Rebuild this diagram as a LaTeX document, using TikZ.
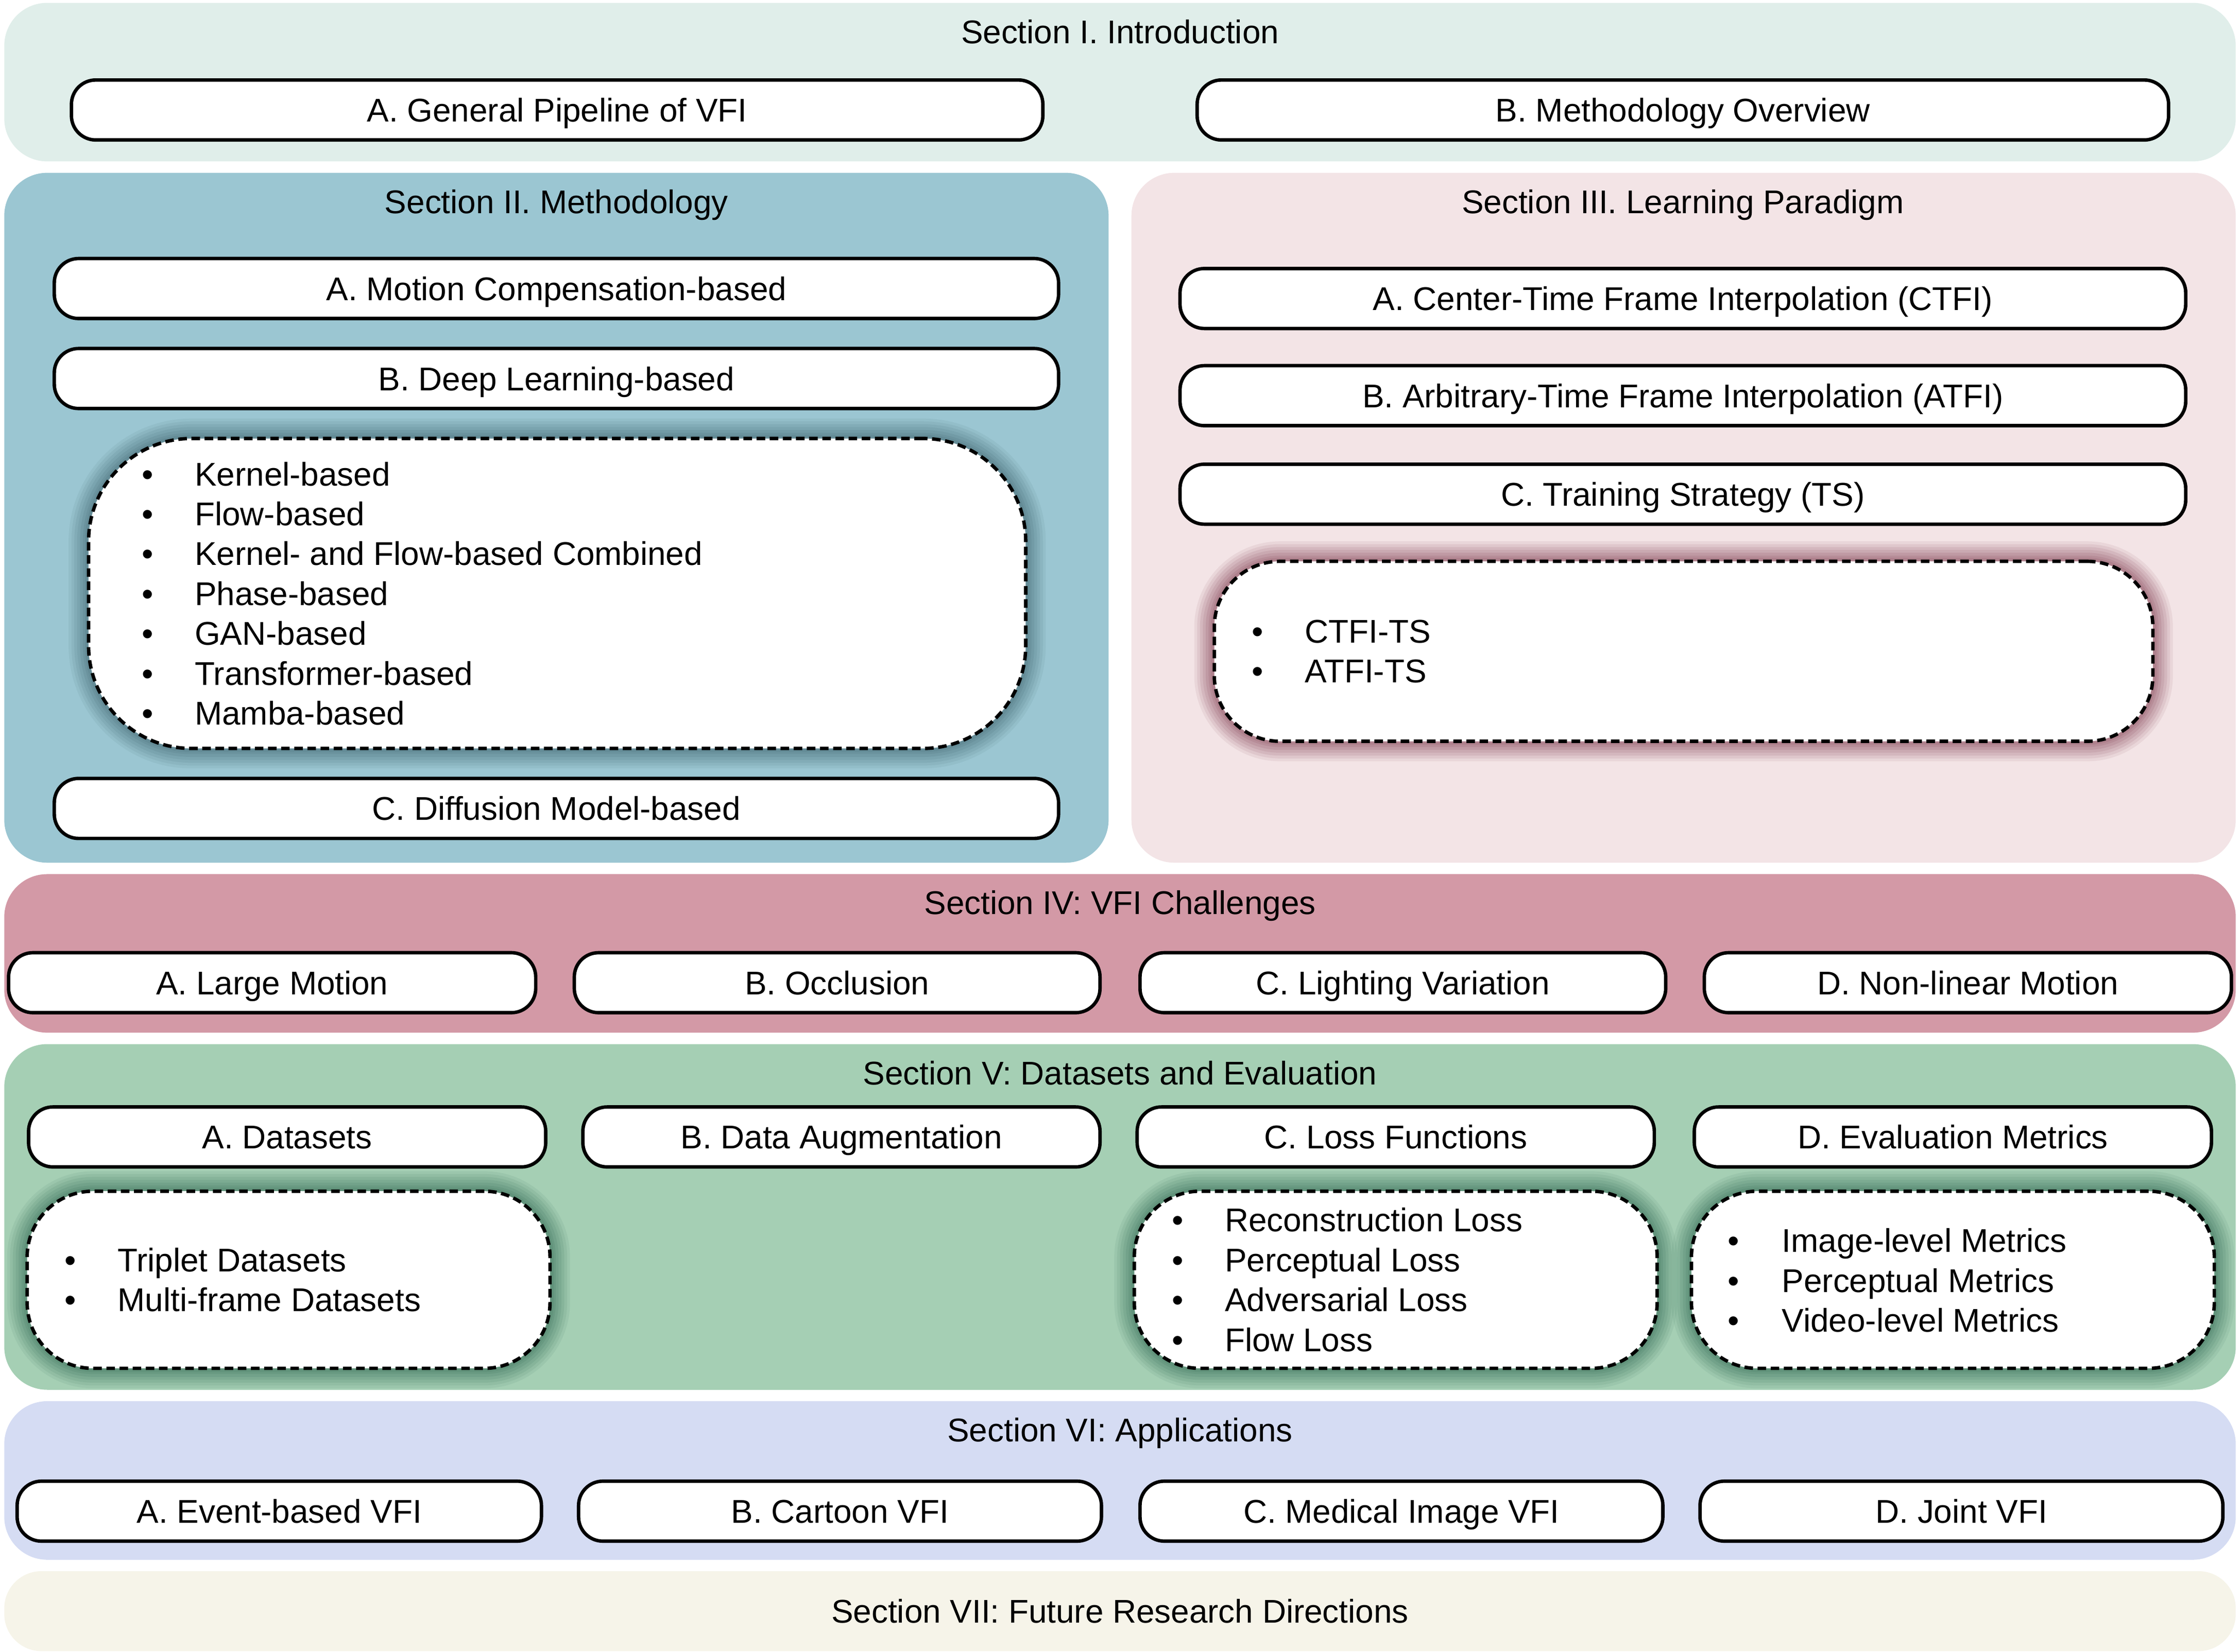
\documentclass[tikz,border=0pt]{standalone}
\usepackage{fontspec}
\setmainfont{Liberation Sans}
\definecolor{colI}{RGB}{224,238,234}
\definecolor{colII}{RGB}{155,198,210}
\definecolor{colIII}{RGB}{243,228,230}
\definecolor{colIV}{RGB}{211,153,166}
\definecolor{colV}{RGB}{165,207,180}
\definecolor{colVI}{RGB}{213,220,243}
\definecolor{colVII}{RGB}{246,244,233}
\definecolor{glowII}{RGB}{46,85,96}
\definecolor{glowIII}{RGB}{106,31,53}
\definecolor{glowV}{RGB}{31,90,69}
\newcommand\mainfont{\fontsize{11.5}{13.95}\selectfont}
\tikzset{
  secstyle/.style={draw=none, rounded corners=15pt, inner sep=0pt},
  pill/.style={draw=black, line width=1.2pt, fill=white, rounded corners=8.5pt,
    inner sep=0pt, font=\mainfont, text height=8.3pt, text depth=0pt},
  titletext/.style={inner sep=0pt, font=\mainfont, text height=8.3pt, text depth=0pt},
  glow/.style={
    preaction={draw=#1, fill=none, solid, line width=14pt, draw opacity=0.07},
    preaction={draw=#1, fill=none, solid, line width=12pt, draw opacity=0.08},
    preaction={draw=#1, fill=none, solid, line width=10pt, draw opacity=0.09},
    preaction={draw=#1, fill=none, solid, line width=8pt, draw opacity=0.09},
    preaction={draw=#1, fill=none, solid, line width=6pt, draw opacity=0.10},
    preaction={draw=#1, fill=none, solid, line width=4pt, draw opacity=0.10},
    preaction={draw=#1, fill=none, solid, line width=2.5pt, draw opacity=0.10}},
  dashbox/.style={draw=black, fill=white, dash pattern=on 3pt off 1.6pt,
    line width=1.2pt, inner sep=0pt},
  listtext/.style={anchor=west, align=left, inner sep=0pt, font=\mainfont}
}
\newcommand\secbox[6]{\node[secstyle, fill=#6, minimum width={(#4-#2)*0.5pt},
  minimum height={(#5-#3)*0.5pt}] (#1) at ({(#2+#4)/2},{(#3+#5)/2}) {};}
\newcommand\pillbox[6]{\node[pill, minimum width={(#4-#2)*0.5pt},
  minimum height={(#5-#3)*0.5pt}] (#1) at ({(#2+#4)/2},{(#3+#5)/2}) {#6};}
\newcommand\listbox[7]{\node[dashbox, glow=#6, rounded corners=#7, minimum width={(#4-#2)*0.5pt},
  minimum height={(#5-#3)*0.5pt}] (#1) at ({(#2+#4)/2},{(#3+#5)/2}) {};}
\newcommand\itm[1]{\makebox[18.5pt][l]{•}#1}
\begin{document}
\begin{tikzpicture}[x=0.5pt, y=-0.5pt]
\useasboundingbox (0,0) rectangle (1568,1156.6);
% section backgrounds
\secbox{s1}{3}{2}{1565}{113}{colI}
\secbox{s2}{3}{121}{776}{604}{colII}
\secbox{s3}{792}{121}{1565}{604}{colIII}
\secbox{s4}{3}{612}{1565}{723}{colIV}
\secbox{s5}{3}{731}{1565}{973}{colV}
\secbox{s6}{3}{981}{1565}{1092}{colVI}
\node[secstyle, fill=colVII, rounded corners=13pt, minimum width={1562*0.5pt},
  minimum height={56*0.5pt}] (s7) at (784,1128) {};
% titles
\node[titletext] (t1) at (784,22) {Section I. Introduction};
\node[titletext] (t2) at (389.5,141) {Section II. Methodology};
\node[titletext] (t3) at (1178,141) {Section III. Learning Paradigm};
\node[titletext] (t4) at (784,632) {Section IV: VFI Challenges};
\node[titletext] (t5) at (784,751) {Section V: Datasets and Evaluation};
\node[titletext] (t6) at (784,1001) {Section VI: Applications};
\node[titletext] (t7) at (784,1128) {Section VII: Future Research Directions};
% section I
\pillbox{p1a}{50}{56}{730}{98}{A. General Pipeline of VFI}
\pillbox{p1b}{838}{56}{1518}{98}{B. Methodology Overview}
% section II
\pillbox{p2a}{38}{181}{741}{223}{A. Motion Compensation-based}
\pillbox{p2b}{38}{244}{741}{286}{B. Deep Learning-based}
\listbox{l2}{62}{307}{718}{524}{glowII}{36pt}
\node[listtext] (l2t) at (99,415.5) {\itm{Kernel-based}\\\itm{Flow-based}\\\itm{Kernel- and Flow-based Combined}\\\itm{Phase-based}\\\itm{GAN-based}\\\itm{Transformer-based}\\\itm{Mamba-based}};
\pillbox{p2c}{38}{545}{741}{587}{C. Diffusion Model-based}
% section III
\pillbox{p3a}{826}{188}{1530}{230}{A. Center-Time Frame Interpolation (CTFI)}
\pillbox{p3b}{826}{256}{1530}{298}{B. Arbitrary-Time Frame Interpolation (ATFI)}
\pillbox{p3c}{826}{325}{1530}{367}{C. Training Strategy (TS)}
\listbox{l3}{850}{393}{1507}{519}{glowIII}{23pt}
\node[listtext] (l3t) at (876,456) {\itm{CTFI-TS}\\\itm{ATFI-TS}};
% section IV
\pillbox{p4a}{6}{667}{375}{709}{A. Large Motion}
\pillbox{p4b}{402}{667}{770}{709}{B. Occlusion}
\pillbox{p4c}{798}{667}{1166}{709}{C. Lighting Variation}
\pillbox{p4d}{1193}{667}{1562}{709}{D. Non-linear Motion}
% section V
\pillbox{p5a}{20}{775}{382}{817}{A. Datasets}
\pillbox{p5b}{408}{775}{770}{817}{B. Data Augmentation}
\pillbox{p5c}{796}{775}{1158}{817}{C. Loss Functions}
\pillbox{p5d}{1186}{775}{1548}{817}{D. Evaluation Metrics}
\listbox{l5a}{19}{834}{385}{958}{glowV}{23pt}
\listbox{l5c}{794}{834}{1160}{958}{glowV}{23pt}
\listbox{l5d}{1184}{834}{1550}{958}{glowV}{23pt}
\node[listtext] (l5at) at (45,896) {\itm{Triplet Datasets}\\\itm{Multi-frame Datasets}};
\node[listtext] (l5ct) at (820,896) {\itm{Reconstruction Loss}\\\itm{Perceptual Loss}\\\itm{Adversarial Loss}\\\itm{Flow Loss}};
\node[listtext] (l5dt) at (1209,896.5) {\makebox[19pt][l]{•}Image-level Metrics\\\makebox[19pt][l]{•}Perceptual Metrics\\\makebox[19pt][l]{•}Video-level Metrics};
% section VI
\pillbox{p6a}{12}{1037}{379}{1079}{A. Event-based VFI}
\pillbox{p6b}{405}{1037}{771}{1079}{B. Cartoon VFI}
\pillbox{p6c}{798}{1037}{1164}{1079}{C. Medical Image VFI}
\pillbox{p6d}{1190}{1037}{1556}{1079}{D. Joint VFI}
\end{tikzpicture}
\end{document}
